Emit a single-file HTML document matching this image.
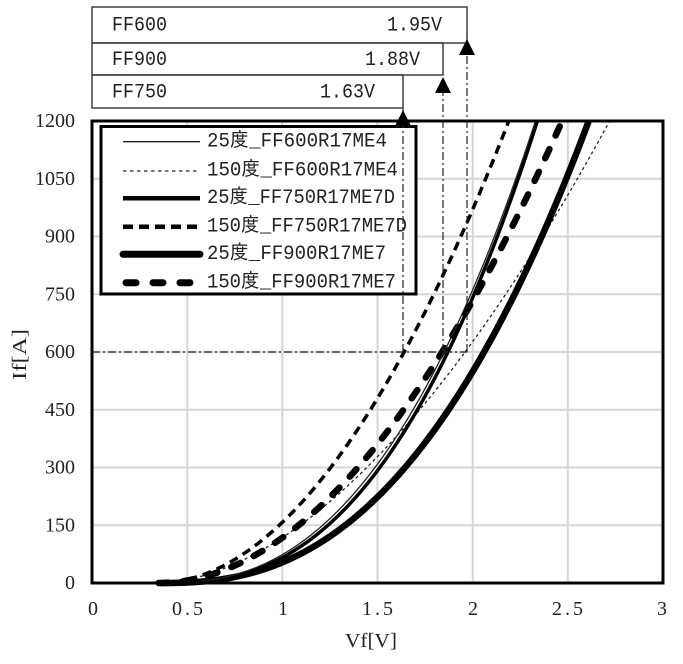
<!DOCTYPE html>
<html>
<head>
<meta charset="utf-8">
<style>
html,body{margin:0;padding:0;background:#fff;}
svg{display:block;}
.tk{font-family:"Liberation Serif","IPAGothic",serif;font-size:20px;fill:#222;}
.mono{font-family:"Liberation Mono","IPAGothic",monospace;font-size:20px;fill:#222;}
</style>
</head>
<body>
<svg id="chart" width="683" height="664" viewBox="0 0 683 664" xmlns="http://www.w3.org/2000/svg">
<defs>
<clipPath id="pc"><rect x="92" y="119" width="571" height="470"/></clipPath>
</defs>
<rect x="0" y="0" width="683" height="664" fill="#fff"/>

<!-- grid -->
<g stroke="#d6d6d6" stroke-width="2">
<line x1="187.2" y1="121" x2="187.2" y2="583"/>
<line x1="282.3" y1="121" x2="282.3" y2="583"/>
<line x1="377.5" y1="121" x2="377.5" y2="583"/>
<line x1="472.7" y1="121" x2="472.7" y2="583"/>
<line x1="567.8" y1="121" x2="567.8" y2="583"/>
<line x1="92" y1="525.25" x2="663" y2="525.25"/>
<line x1="92" y1="467.5" x2="663" y2="467.5"/>
<line x1="92" y1="409.75" x2="663" y2="409.75"/>
<line x1="92" y1="352" x2="663" y2="352"/>
<line x1="92" y1="294.25" x2="663" y2="294.25"/>
<line x1="92" y1="236.5" x2="663" y2="236.5"/>
<line x1="92" y1="178.75" x2="663" y2="178.75"/>
</g>

<!-- curves -->
<g fill="none" stroke="#000" stroke-linejoin="round" clip-path="url(#pc)">
<!-- 150 FF600 dotted -->
<polyline class="cv" stroke-width="1.3" stroke-dasharray="3 3" stroke="#222" points="158.6,583 196.7,578.4 225.2,569.5 253.8,556.8 282.3,542.6 309.0,525.25 362.3,467.5 415.6,409.75 465.0,352 501.2,294.25 539.3,236.5 575.4,178.75 609.7,121"/>
<!-- 25 FF900 thick -->
<polyline class="cv" stroke-width="6.5" points="162.4,583 206.2,581.1 244.3,576.1 282.3,566.8 316.6,551.0 341.3,525.25 371.8,496.4 400.3,467.5 447.9,409.75 484.1,352 508.8,294.25 533.6,236.5 562.1,178.75 588.8,121"/>
<!-- 150 FF900 thick dashed -->
<polyline class="cv" stroke-width="6.5" stroke-linecap="round" stroke-dasharray="10 15" points="158.6,583 202.4,576.8 232.8,566.8 257.6,553.0 299.5,525.25 350.8,467.5 392.7,409.75 442.2,352 474.6,294.25 505.0,236.5 533.6,178.75 562.1,121"/>
<!-- 150 FF750 medium dashed -->
<polyline class="cv" stroke-width="3.5" stroke-dasharray="9 6" points="158.6,583 192.9,578.0 219.5,569.9 246.2,552.2 280.4,525.25 329.9,467.5 369.9,409.75 404.1,352 430.8,294.25 455.5,236.5 482.2,178.75 508.8,121"/>
<!-- 25 FF750 medium -->
<polyline class="cv" stroke-width="3.5" points="162.4,583 217.6,579.5 250.0,572.6 282.3,561.1 322.3,525.25 375.6,467.5 415.6,409.75 447.9,352 470.7,294.25 491.7,236.5 514.5,178.75 537.4,121"/>
<!-- 25 FF600 thin -->
<polyline class="cv" stroke-width="1.3" stroke="#222" points="160.5,583 215.7,579.2 248.1,571.5 278.5,559.1 316.6,525.25 368.0,467.5 411.8,409.75 444.1,352 465.0,294.25 487.9,236.5 512.6,178.75 535.5,121"/>
</g>

<!-- plot border -->
<rect x="92" y="121" width="571" height="462" fill="none" stroke="#000" stroke-width="3"/>

<!-- legend -->
<rect x="101" y="126.5" width="315" height="167.5" fill="#fff" stroke="#000" stroke-width="3"/>
<g fill="none" stroke="#000">
<line x1="123" y1="141.7" x2="200" y2="141.7" stroke-width="1.3" stroke="#222"/>
<line x1="123" y1="171" x2="200" y2="171" stroke-width="1.3" stroke="#222" stroke-dasharray="3.5 3.5"/>
<line x1="123" y1="198.3" x2="200" y2="198.3" stroke-width="4.5"/>
<line x1="123" y1="226.7" x2="200" y2="226.7" stroke-width="4.5" stroke-dasharray="10 6"/>
<line x1="123" y1="254.3" x2="200" y2="254.3" stroke-width="7" stroke-linecap="round"/>
<line x1="126" y1="282.7" x2="200" y2="282.7" stroke-width="7" stroke-linecap="round" stroke-dasharray="10 17"/>
</g>
<g class="mono" dominant-baseline="central">
<text x="207" y="142" textLength="180" lengthAdjust="spacingAndGlyphs">25度_FF600R17ME4</text>
<text x="207" y="171" textLength="191" lengthAdjust="spacingAndGlyphs">150度_FF600R17ME4</text>
<text x="207" y="198.5" textLength="188" lengthAdjust="spacingAndGlyphs">25度_FF750R17ME7D</text>
<text x="207" y="227" textLength="200" lengthAdjust="spacingAndGlyphs">150度_FF750R17ME7D</text>
<text x="207" y="254.5" textLength="179" lengthAdjust="spacingAndGlyphs">25度_FF900R17ME7</text>
<text x="207" y="283" textLength="189" lengthAdjust="spacingAndGlyphs">150度_FF900R17ME7</text>
</g>

<!-- dash-dot reference lines -->
<g fill="none" stroke="#222" stroke-width="1.2" stroke-dasharray="8 3 2 3">
<line x1="92" y1="352" x2="467" y2="352"/>
<line x1="403" y1="352" x2="403" y2="125"/>
<line x1="443" y1="352" x2="443" y2="92"/>
<line x1="467" y1="352" x2="467" y2="55"/>
</g>

<!-- value boxes -->
<g fill="none" stroke="#333" stroke-width="1.4">
<rect x="92" y="7" width="375" height="36"/>
<rect x="92" y="43" width="351" height="32"/>
<rect x="92" y="75" width="311" height="33"/>
<line x1="403" y1="108" x2="403" y2="112"/>
</g>
<g fill="#000">
<polygon points="403,110 395,126 411,126"/>
<polygon points="443,77 435,93 451,93"/>
<polygon points="467,39 459,55 475,55"/>
</g>
<g class="mono" dominant-baseline="central">
<text x="112" y="26" textLength="55" lengthAdjust="spacingAndGlyphs">FF600</text>
<text x="387" y="26" textLength="55" lengthAdjust="spacingAndGlyphs">1.95V</text>
<text x="112" y="60.5" textLength="55" lengthAdjust="spacingAndGlyphs">FF900</text>
<text x="365" y="60.5" textLength="55" lengthAdjust="spacingAndGlyphs">1.88V</text>
<text x="112" y="93" textLength="55" lengthAdjust="spacingAndGlyphs">FF750</text>
<text x="320" y="93" textLength="55" lengthAdjust="spacingAndGlyphs">1.63V</text>
</g>

<!-- y tick labels -->
<g class="tk" text-anchor="end" dominant-baseline="central">
<text x="75" y="121">1200</text>
<text x="75" y="178.75">1050</text>
<text x="75" y="236.5">900</text>
<text x="75" y="294.25">750</text>
<text x="75" y="352">600</text>
<text x="75" y="409.75">450</text>
<text x="75" y="467.5">300</text>
<text x="75" y="525.25">150</text>
<text x="75" y="583">0</text>
</g>

<!-- x tick labels -->
<g class="tk" dominant-baseline="central">
<text x="88" y="609">0</text>
<text x="172" y="609" textLength="31" lengthAdjust="spacing">0.5</text>
<text x="278" y="609">1</text>
<text x="362" y="609" textLength="31" lengthAdjust="spacing">1.5</text>
<text x="468" y="609">2</text>
<text x="552" y="609" textLength="31" lengthAdjust="spacing">2.5</text>
<text x="657" y="609">3</text>
</g>

<!-- axis titles -->
<text class="tk" x="345" y="641" dominant-baseline="central" textLength="52" lengthAdjust="spacingAndGlyphs">Vf[V]</text>
<text class="tk" x="0" y="0" dominant-baseline="central" textLength="51" lengthAdjust="spacingAndGlyphs" transform="translate(20,380) rotate(-90)">If[A]</text>
</svg>
<script>
(function(){
  var NS="http://www.w3.org/2000/svg";
  /* power-law model I = 1200*((V-V0)/(V1-V0))^n, order matches polylines */
  var P=[
    [0.35,2.72,1.793], /* 150 FF600 dotted */
    [0.36,2.61,2.473], /* 25 FF900 thick */
    [0.35,2.47,1.965], /* 150 FF900 thick dashed */
    [0.35,2.19,1.951], /* 150 FF750 dashed */
    [0.37,2.34,2.543], /* 25 FF750 medium */
    [0.36,2.33,2.481]  /* 25 FF600 thin */
  ];
  var pls=document.querySelectorAll("polyline.cv");
  for(var k=0;k<pls.length&&k<P.length;k++){
    var pl=pls[k],V0=P[k][0],V1=P[k][1],n=P[k][2];
    var d="",steps=120;
    for(var i=0;i<=steps;i++){
      var V=V0+(V1-V0)*i/steps;
      var I=1200*Math.pow((V-V0)/(V1-V0),n);
      var x=92+V*190.33,y=583-I*0.385;
      d+=(i?" L":"M")+x.toFixed(2)+","+y.toFixed(2);
    }
    var path=document.createElementNS(NS,"path");
    for(var j=0;j<pl.attributes.length;j++){
      var at=pl.attributes[j];
      if(at.name!=="points"&&at.name!=="class")path.setAttribute(at.name,at.value);
    }
    path.setAttribute("d",d);
    pl.parentNode.replaceChild(path,pl);
  }
})();
</script>
</body>
</html>
